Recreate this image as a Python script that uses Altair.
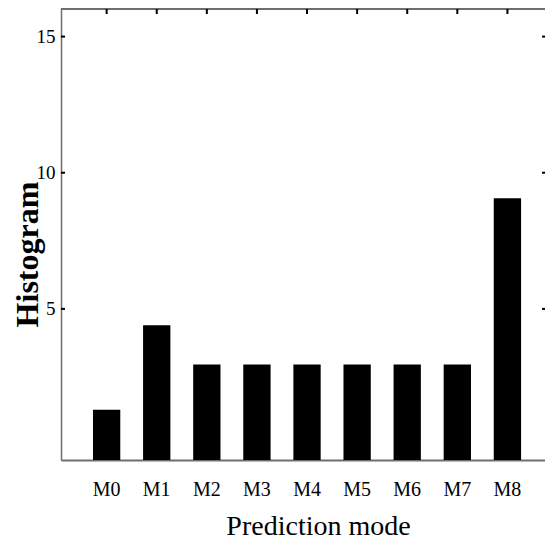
import altair as alt
import pandas as pd

modes = ["M0", "M1", "M2", "M3", "M4", "M5", "M6", "M7", "M8"]
values = [1.3, 4.4, 2.96, 2.96, 2.96, 2.96, 2.96, 2.96, 9.06]
y_ticks = [5, 10, 15]
Y_MIN, Y_MAX = -0.55, 16.05

PAD_L, PAD_T, PAD_B = 53, 0, 81
W, H = 484, 452
FONT = "Liberation Serif"
AXIS_COLOR = "#6e6e6e"

df = pd.DataFrame({"mode": modes, "value": values})
tick_df = pd.DataFrame({"t": y_ticks})

xscale = alt.Scale(domain=modes, paddingInner=0.455, paddingOuter=0.558, align=0.572)
yscale = alt.Scale(domain=[Y_MIN, Y_MAX], nice=False, zero=False)

bars = alt.Chart(df).mark_bar(color="black").encode(
    x=alt.X("mode:N", scale=xscale, sort=modes,
            axis=alt.Axis(title="Prediction mode", labelAngle=0, ticks=False,
                          labelFont=FONT, labelFontSize=20, labelColor="black",
                          labelPadding=19, domainColor=AXIS_COLOR, domainWidth=2,
                          titleFont=FONT, titleFontSize=28, titleFontWeight="normal",
                          titleColor="black", titleX=257, titleY=80,
                          titleBaseline="bottom", titleAlign="center")),
    y=alt.Y("value:Q", scale=yscale,
            axis=alt.Axis(title="Histogram", values=y_ticks, ticks=False, grid=False,
                          labelFont=FONT, labelFontSize=19, labelColor="black",
                          labelPadding=6, domainColor=AXIS_COLOR, domainWidth=1.5,
                          titleFont=FONT, titleFontSize=32, titleFontWeight="bold",
                          titleColor="black", titleAngle=270, titleX=-24, titleY=246,
                          titleBaseline="alphabetic", titleAlign="center")),
    y2=alt.Y2(datum=Y_MIN),
)

top_border = alt.Chart(tick_df).mark_rule(color=AXIS_COLOR, strokeWidth=2).encode(
    x=alt.value(0),
    x2=alt.value(W),
    y=alt.value(1),
)

top_ticks = alt.Chart(df).mark_rule(color="black", strokeWidth=2).encode(
    x=alt.X("mode:N", scale=xscale, sort=modes, axis=None),
    y=alt.value(1),
    y2=alt.value(6),
)

left_ticks = alt.Chart(tick_df).mark_rule(color="black", strokeWidth=2).encode(
    y=alt.Y("t:Q", scale=yscale, axis=None),
    x=alt.value(0),
    x2=alt.value(4),
)

right_ticks = alt.Chart(tick_df).mark_rule(color="black", strokeWidth=2).encode(
    y=alt.Y("t:Q", scale=yscale, axis=None),
    x=alt.value(W - 3),
    x2=alt.value(W),
)

chart = alt.layer(bars, top_border, top_ticks, left_ticks, right_ticks).resolve_axis(
    x="independent", y="independent"
).properties(
    width=W, height=H,
    autosize=alt.AutoSizeParams(type="none"),
    padding={"left": PAD_L, "top": PAD_T, "right": 0, "bottom": PAD_B},
).configure_view(stroke=None).configure(background="white")

chart.save("out.html", embed_options={"renderer": "svg", "actions": False})
